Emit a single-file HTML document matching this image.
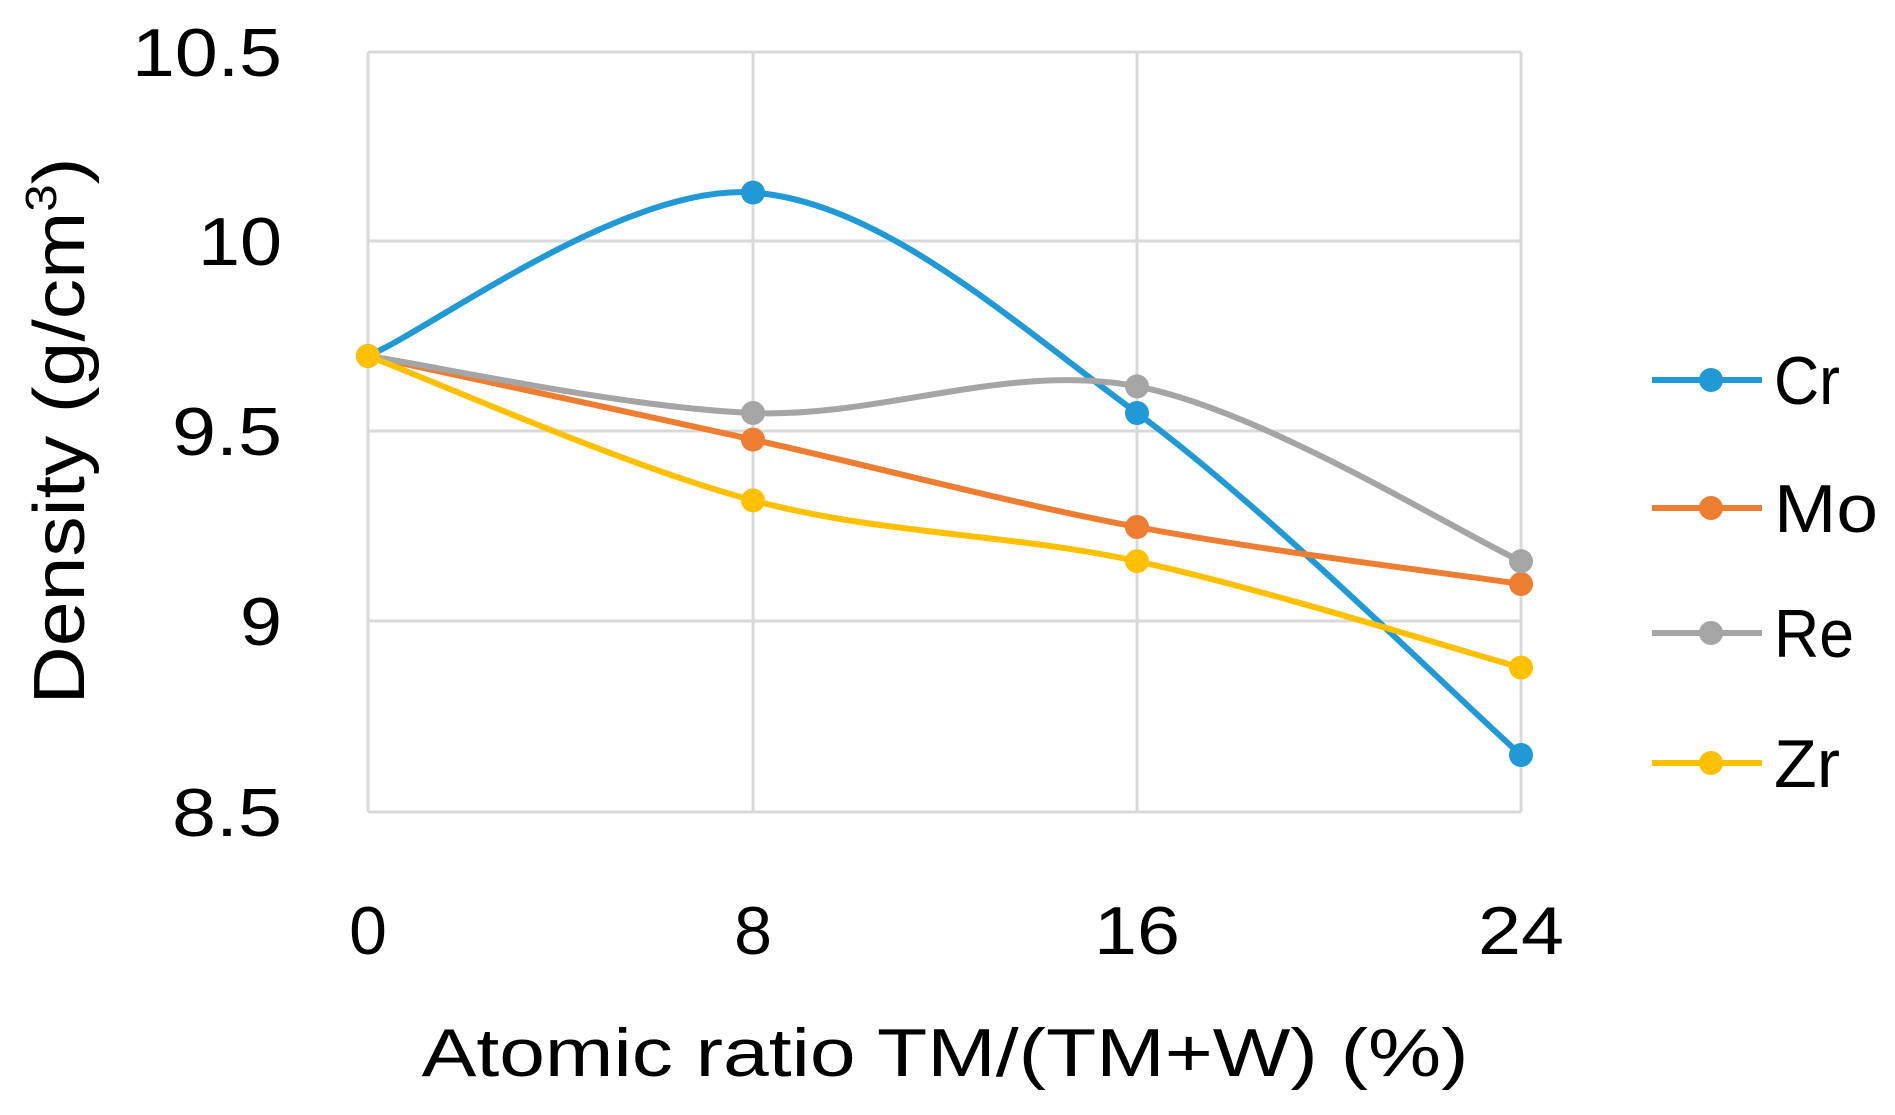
<!DOCTYPE html>
<html><head><meta charset="utf-8"><style>
html,body{margin:0;padding:0;background:#fff;}
svg{display:block;font-family:"Liberation Sans",sans-serif;}
</style></head><body>
<svg id="s" width="1895" height="1115" viewBox="0 0 1895 1115">
<g stroke="#d9d9d9" stroke-width="3" fill="none">
<line x1="368" y1="52" x2="1521" y2="52"/>
<line x1="368" y1="241" x2="1521" y2="241"/>
<line x1="368" y1="431" x2="1521" y2="431"/>
<line x1="368" y1="621" x2="1521" y2="621"/>
<line x1="368" y1="812" x2="1521" y2="812"/>
<line x1="368" y1="52" x2="368" y2="812"/>
<line x1="753" y1="52" x2="753" y2="812"/>
<line x1="1137" y1="52" x2="1137" y2="812"/>
<line x1="1521" y1="52" x2="1521" y2="812"/>
</g>
<g font-size="68" text-anchor="end" fill="#000">
<text x="282" y="76" textLength="150" lengthAdjust="spacingAndGlyphs">10.5</text>
<text x="282" y="265" textLength="84" lengthAdjust="spacingAndGlyphs">10</text>
<text x="282" y="455" textLength="110" lengthAdjust="spacingAndGlyphs">9.5</text>
<text x="282" y="645" textLength="42" lengthAdjust="spacingAndGlyphs">9</text>
<text x="282" y="836" textLength="110" lengthAdjust="spacingAndGlyphs">8.5</text>
</g>
<g font-size="68" text-anchor="middle" fill="#000">
<text x="368" y="954">0</text>
<text x="753" y="954">8</text>
<text x="1137" y="954" textLength="86" lengthAdjust="spacingAndGlyphs">16</text>
<text x="1521" y="954" textLength="86" lengthAdjust="spacingAndGlyphs">24</text>
<text x="945" y="1076" textLength="1047" lengthAdjust="spacingAndGlyphs">Atomic ratio TM/(TM+W)  (%)</text>
<text transform="translate(84,431) rotate(-90)" textLength="547" lengthAdjust="spacingAndGlyphs" font-size="72">Density (g/cm<tspan font-size="44" dy="-28">3</tspan><tspan dy="28">)</tspan></text>
</g>
<g id="series"></g>
<g font-size="68" fill="#000">
<text x="1774" y="404" textLength="66" lengthAdjust="spacingAndGlyphs">Cr</text>
<text x="1774" y="532" textLength="104" lengthAdjust="spacingAndGlyphs">Mo</text>
<text x="1774" y="657" textLength="80" lengthAdjust="spacingAndGlyphs">Re</text>
<text x="1774" y="787" textLength="66" lengthAdjust="spacingAndGlyphs">Zr</text>
</g>
</svg>
<script>
var xs=[368,753,1137,1521];
function Y(v){return 812-380*(v-8.5);}
var S=[["#1f9ad6",[9.7,10.13,9.55,8.65],380],["#ed7d31",[9.7,9.48,9.25,9.1],508],["#a5a5a5",[9.7,9.55,9.62,9.16],633],["#ffc000",[9.7,9.32,9.16,8.88],763]];
var g=document.getElementById("series"),h="";
S.forEach(function(s){
 var c=s[0],p=s[1].map(function(v,i){return [xs[i],Y(v)];});
 var d="M"+p[0][0]+","+p[0][1],t=1/6;
 for(var i=0;i<3;i++){
  var p0=p[Math.max(i-1,0)],p1=p[i],p2=p[i+1],p3=p[Math.min(i+2,3)];
  var c1=[p1[0]+(p2[0]-p0[0])*t,p1[1]+(p2[1]-p0[1])*t];
  var c2=[p2[0]-(p3[0]-p1[0])*t,p2[1]-(p3[1]-p1[1])*t];
  d+=" C"+c1+" "+c2+" "+p2;
 }
 h+='<path d="'+d+'" fill="none" stroke="'+c+'" stroke-width="6"/>';
 p.forEach(function(q){h+='<circle cx="'+q[0]+'" cy="'+q[1]+'" r="12" fill="'+c+'"/>';});
 h+='<line x1="1652" x2="1762" y1="'+s[2]+'" y2="'+s[2]+'" stroke="'+c+'" stroke-width="6"/><circle cx="1711" cy="'+s[2]+'" r="12" fill="'+c+'"/>';
});
g.innerHTML=h;
</script>
</body></html>
